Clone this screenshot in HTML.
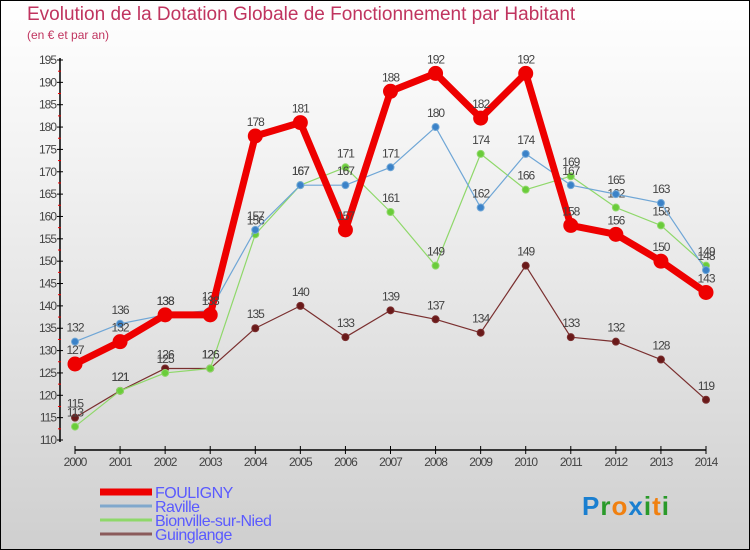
<!DOCTYPE html>
<html><head><meta charset="utf-8"><style>
body{margin:0}
#c{width:750px;height:550px;position:relative;box-sizing:border-box;border:1px solid #000;background:linear-gradient(#fff,#f2f2f2 30%,#cfcfcf);font-family:"Liberation Sans",sans-serif;overflow:hidden}
.t{position:absolute;left:26px;top:3px;font-size:19px;color:#c0345f;white-space:nowrap}
.s{position:absolute;left:26px;top:27px;font-size:12px;color:#c0345f}
</style></head><body>
<div id="c">
<div class="t">Evolution de la Dotation Globale de Fonctionnement par Habitant</div>
<div class="s">(en € et par an)</div>
<svg id="g" width="750" height="550" style="position:absolute;left:-1px;top:-1px"></svg>
</div>
<script>
const years=[2000,2001,2002,2003,2004,2005,2006,2007,2008,2009,2010,2011,2012,2013,2014];
const fouligny=[127,132,138,138,178,181,157,188,192,182,192,158,156,150,143];
const raville=[132,136,138,139,157,167,167,171,180,162,174,167,165,163,148];
const bionville=[113,121,125,126,156,167,171,161,149,174,166,169,162,158,149];
const guinglange=[115,121,126,126,135,140,133,139,137,134,149,133,132,128,119];
const yTicks=[110,115,120,125,130,135,140,145,150,155,160,165,170,175,180,185,190,195];
const NS="http://www.w3.org/2000/svg",g=document.getElementById('g');
const X=i=>75+i*(706-75)/(years.length-1);
const Y=v=>440-(v-110)*(380/85);
function el(t,a,p){const e=document.createElementNS(NS,t);for(const k in a)e.setAttribute(k,a[k]);(p||g).appendChild(e);return e;}
let ax=el('line',{x1:60,y1:58,x2:60,y2:442,stroke:'#000','stroke-width':1.5});


let xa=el('line',{x1:75,y1:450,x2:706,y2:450,stroke:'#000','stroke-width':1.5});


yTicks.forEach((v,k)=>{const y=Y(v);el('line',{x1:57,y1:y,x2:63,y2:y,stroke:'#000'});
 if(k>0){const ym=(y+Y(yTicks[k-1]))/2;el('line',{x1:58,y1:ym,x2:61,y2:ym,stroke:'#e00'});}
 const t=el('text',{x:56,y:y+4,'text-anchor':'end','font-size':12,fill:'#444','letter-spacing':-1});t.textContent=v;
 
 });
years.forEach((yr,i)=>{const x=X(i);el('line',{x1:x,y1:446,x2:x,y2:454,stroke:'#000'});
 const t=el('text',{x:x,y:466,'text-anchor':'middle','font-size':12,fill:'#444','letter-spacing':-1});t.textContent=yr;
 
 });
function series(d,col,w,r,name,labCol){
 const p=el('polyline',{points:d.map((v,i)=>X(i)+','+Y(v)).join(' '),fill:'none',stroke:col,'stroke-width':w,'stroke-linejoin':'round'});
 
 
 d.forEach((v,i)=>{const c=el('circle',{cx:X(i),cy:Y(v),r:r,fill:labCol,stroke:col,'stroke-width':1});
  
  
  const t=el('text',{x:X(i),y:Y(v)-10,'text-anchor':'middle','font-size':12,fill:'#444','letter-spacing':-1});t.textContent=v;
  
  });
}
series(guinglange,'#7a2f2f',1.2,3.5,'guinglange','#6a1a1a');
series(bionville,'#8fd86a',1.2,3.5,'bionville','#6acc3a');
series(raville,'#6fa6d6',1.2,3.5,'raville','#3b82c8');
series(fouligny,'#ee0000',7,7,'fouligny','#ee0000');
const leg=[['FOULIGNY','#ee0000',7],['Raville','#80a8cc',3],['Bionville-sur-Nied','#8fd86a',3],['Guinglange','#8a5a5a',3]];
leg.forEach((l,i)=>{const y=492+i*14;el('line',{x1:100,y1:y,x2:152,y2:y,stroke:l[1],'stroke-width':l[2]});
 const t=el('text',{x:155,y:y+6,'font-size':16,fill:'#5a5aff','letter-spacing':-0.5});t.textContent=l[0];
 
 });
const lg=el('text',{x:582,y:515,'font-size':26,'font-weight':'bold','letter-spacing':1});


[['P','#1a7fd0'],['r','#2a9a2a'],['o','#f08010'],['x','#1a7fd0'],['i','#2a9a2a'],['t','#f08010'],['i','#2a9a2a']].forEach(a=>{const s=el('tspan',{fill:a[1]},lg);s.textContent=a[0];});
</script>
</body></html>
